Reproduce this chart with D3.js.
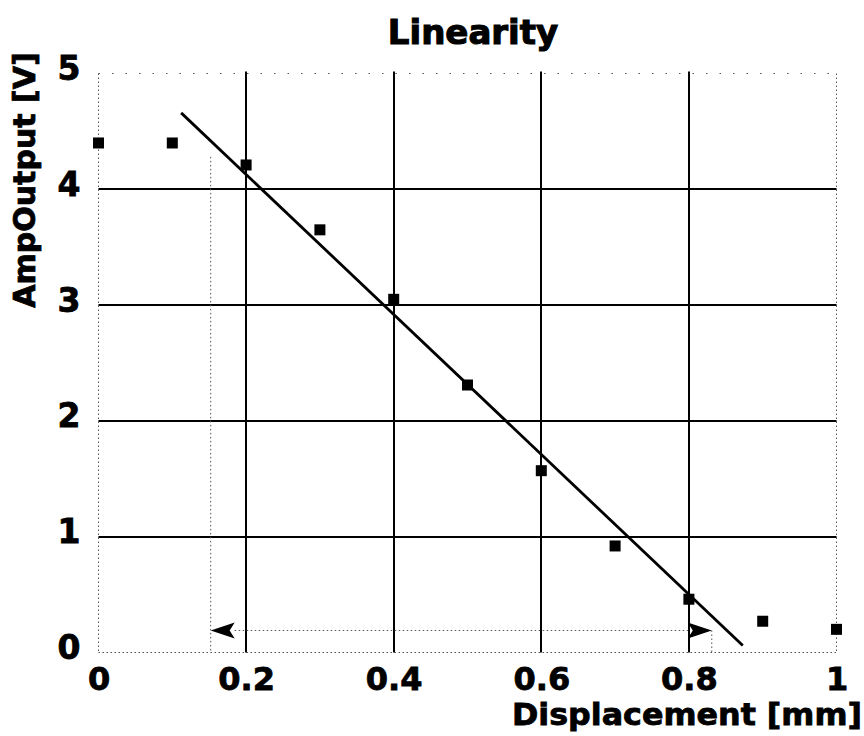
<!DOCTYPE html>
<html>
<head>
<meta charset="utf-8">
<script src="https://cdn.jsdelivr.net/npm/d3@7"></script>
<style>
  body { margin: 0; background: #fff; }
  text { font-family: "DejaVu Sans", sans-serif; font-weight: bold; fill: #000; stroke: #000; stroke-width: 0.8px; }
</style>
</head>
<body>
<div id="chart"></div>
<script>
// measured points
const displacement = [0, 0.1, 0.2, 0.3, 0.4, 0.5, 0.6, 0.7, 0.8, 0.9, 1.0];
const ampOutput = [4.40, 4.40, 4.21, 3.65, 3.05, 2.31, 1.57, 0.92, 0.46, 0.27, 0.20];

// fitted straight line, end points
const fitX = [0.112, 0.873];
const fitY = [4.66, 0.06];

// linear range markers
const rangeX = [0.152, 0.831];
const rangeLevel = 0.19;
const rangeTop = [4.28, 0.19];

const xTicks = [0, 0.2, 0.4, 0.6, 0.8, 1];
const yTicks = [0, 1, 2, 3, 4, 5];
const solidX = [0.2, 0.4, 0.6, 0.8];
const solidY = [1, 2, 3, 4];

const width = 864, height = 736;

const x = d3.scaleLinear().domain([0, 1]).range([98.5, 836.5]);
const y = d3.scaleLinear().domain([0, 5]).range([652.5, 73.5]);

const svg = d3.select("#chart").append("svg")
    .attr("width", width)
    .attr("height", height);

const dotted = { stroke: "#555", width: 1, dash: "1.5,2.5" };

// outer dotted frame
svg.append("g").selectAll("line")
    .data([0, 1])
    .join("line")
    .attr("x1", d => x(d)).attr("x2", d => x(d))
    .attr("y1", y(5)).attr("y2", y(0))
    .attr("stroke", dotted.stroke).attr("stroke-width", dotted.width)
    .attr("stroke-dasharray", dotted.dash);

svg.append("g").selectAll("line")
    .data([0, 5])
    .join("line")
    .attr("x1", x(0)).attr("x2", x(1))
    .attr("y1", d => y(d)).attr("y2", d => y(d))
    .attr("stroke", dotted.stroke).attr("stroke-width", dotted.width)
    .attr("stroke-dasharray", d => d === 5 ? "1.5,12" : dotted.dash);

// solid grid
svg.append("g").selectAll("line")
    .data(solidX)
    .join("line")
    .attr("x1", d => Math.round(x(d))).attr("x2", d => Math.round(x(d)))
    .attr("y1", y(5) - 2).attr("y2", y(0))
    .attr("stroke", "#000").attr("stroke-width", 2);

svg.append("g").selectAll("line")
    .data(solidY)
    .join("line")
    .attr("x1", x(0)).attr("x2", x(1))
    .attr("y1", d => Math.round(y(d))).attr("y2", d => Math.round(y(d)))
    .attr("stroke", "#000").attr("stroke-width", 2);

// linear range: dotted verticals, dotted level line, arrows
const range = svg.append("g");
range.selectAll("line.v")
    .data(rangeX.map((d, i) => ({ x: d, top: rangeTop[i] })))
    .join("line")
    .attr("class", "v")
    .attr("x1", d => x(d.x)).attr("x2", d => x(d.x))
    .attr("y1", d => y(d.top)).attr("y2", y(0))
    .attr("stroke", dotted.stroke).attr("stroke-width", dotted.width)
    .attr("stroke-dasharray", dotted.dash);

range.append("line")
    .attr("x1", x(rangeX[0]) + 24).attr("x2", x(rangeX[1]) - 22)
    .attr("y1", y(rangeLevel)).attr("y2", y(rangeLevel))
    .attr("stroke", dotted.stroke).attr("stroke-width", dotted.width)
    .attr("stroke-dasharray", dotted.dash);

const arrowPath = "M0,0 L24,-8 L19,0 L24,8 Z";
range.selectAll("path")
    .data(rangeX.map((d, i) => ({ x: d, dir: i === 0 ? 1 : -1 })))
    .join("path")
    .attr("d", arrowPath)
    .attr("fill", "#000")
    .attr("transform", d => `translate(${x(d.x)},${y(rangeLevel)}) scale(${d.dir},1)`);

// fitted line
svg.append("line")
    .attr("x1", x(fitX[0])).attr("y1", y(fitY[0]))
    .attr("x2", x(fitX[1])).attr("y2", y(fitY[1]))
    .attr("stroke", "#000").attr("stroke-width", 2.8);

// data markers
const size = 11;
svg.append("g").selectAll("rect")
    .data(displacement.map((d, i) => ({ x: d, y: ampOutput[i] })))
    .join("rect")
    .attr("x", d => x(d.x) - size / 2)
    .attr("y", d => y(d.y) - size / 2)
    .attr("width", size).attr("height", size)
    .attr("fill", "#000");

// axes (labels only)
const xAxis = svg.append("g")
    .attr("transform", `translate(0,${y(0)})`)
    .call(d3.axisBottom(x).tickValues(xTicks).tickSize(0).tickFormat(d3.format("")));
xAxis.select(".domain").remove();
xAxis.selectAll("text")
    .attr("y", 37).attr("dy", 0)
    .style("font-size", "32px");

const yAxis = svg.append("g")
    .attr("transform", `translate(${x(0)},0)`)
    .call(d3.axisLeft(y).tickValues(yTicks).tickSize(0).tickFormat(d3.format("")));
yAxis.select(".domain").remove();
yAxis.selectAll("text")
    .attr("x", -18).attr("dy", 6)
    .style("font-size", "33px");

svg.selectAll(".tick text")
    .style("font-family", "'DejaVu Sans', sans-serif")
    .style("font-weight", "bold")
    .attr("fill", "#000");

// titles
svg.append("text")
    .attr("x", 473).attr("y", 44)
    .attr("text-anchor", "middle")
    .style("font-size", "34px")
    .style("stroke-width", "1.1px")
    .text("Linearity");

svg.append("text")
    .attr("x", 862).attr("y", 725)
    .attr("text-anchor", "end")
    .attr("textLength", 350)
    .attr("lengthAdjust", "spacingAndGlyphs")
    .style("font-size", "30px")
    .text("Displacement [mm]");

svg.append("text")
    .attr("transform", "translate(35,180) rotate(-90)")
    .attr("text-anchor", "middle")
    .style("font-size", "30px")
    .text("AmpOutput [V]");
</script>
</body>
</html>
